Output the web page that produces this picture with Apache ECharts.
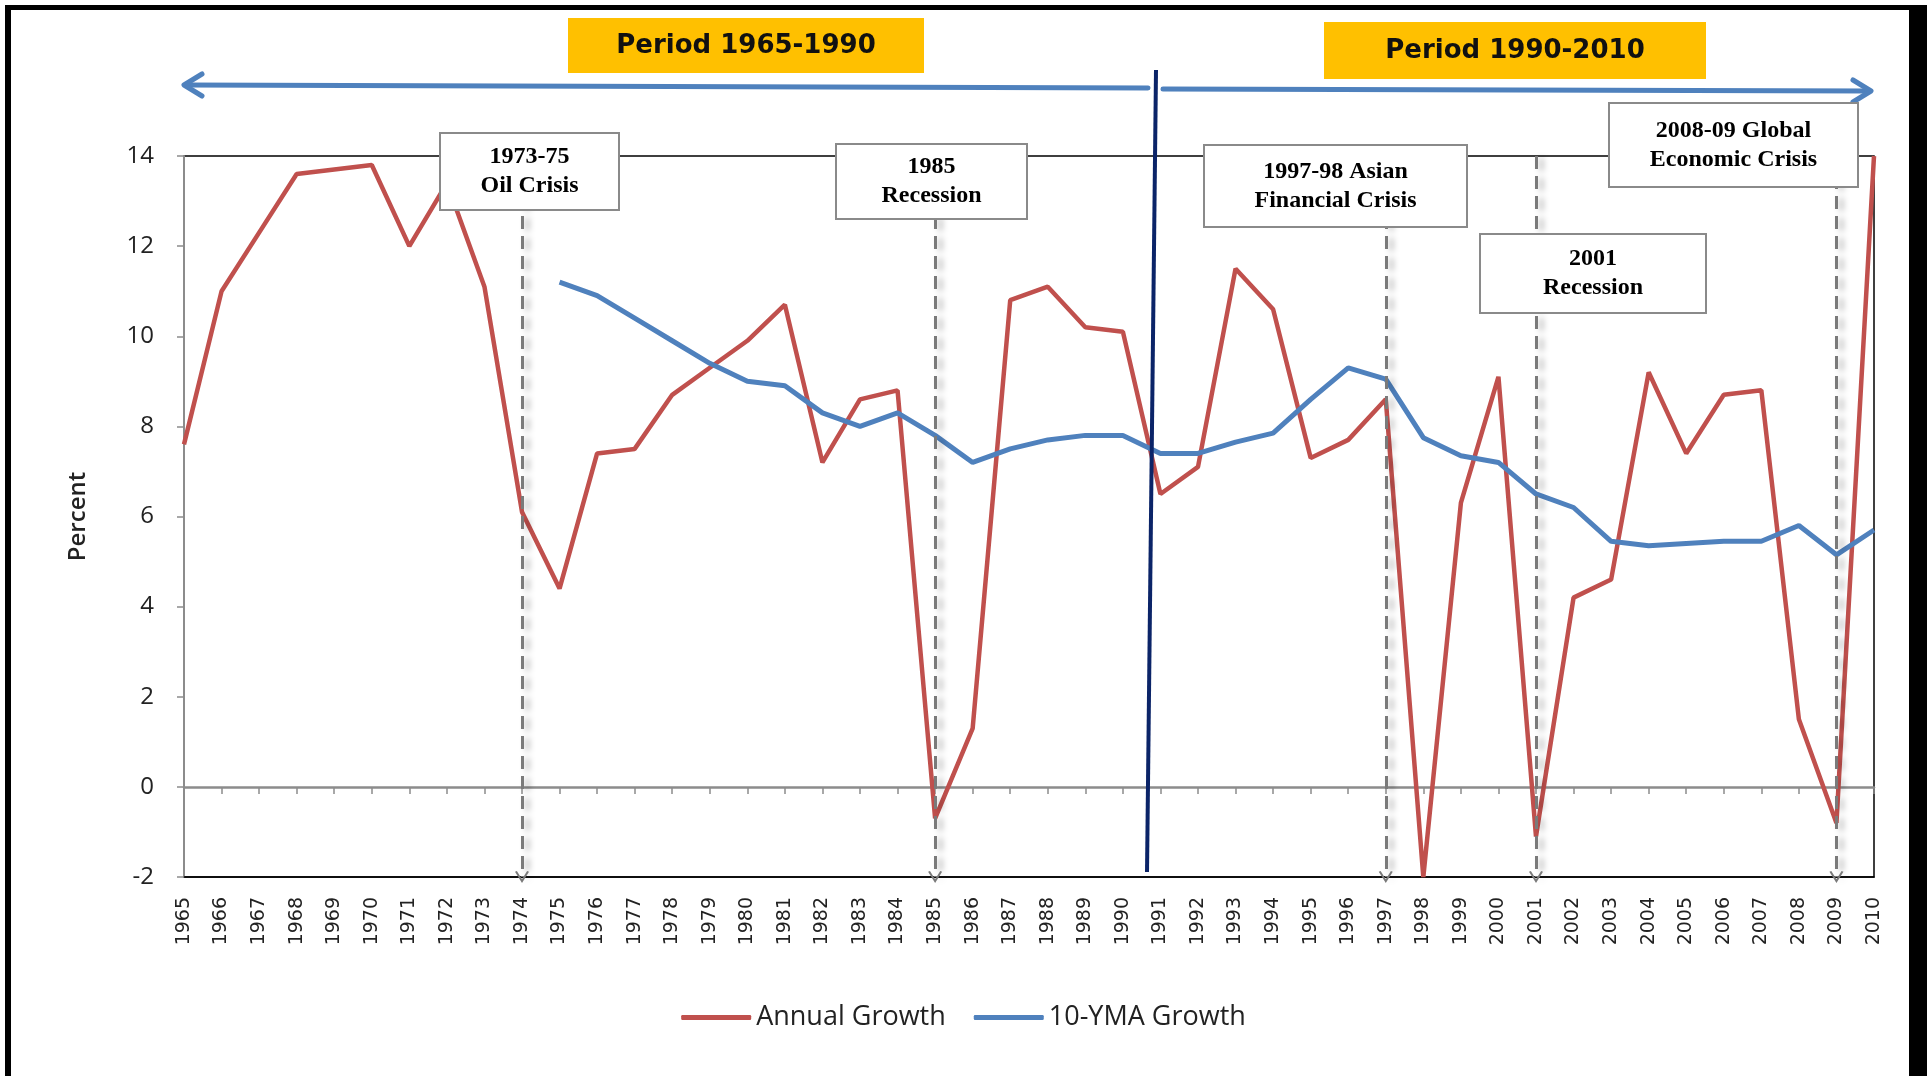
<!DOCTYPE html>
<html>
<head>
<meta charset="utf-8">
<title>Annual Growth and 10-YMA Growth</title>
<script src="https://cdn.jsdelivr.net/npm/echarts@6/dist/echarts.min.js"></script>
<style>
  html, body { margin: 0; padding: 0; background: #fff; }
  #main { width: 1927px; height: 1076px; }
</style>
</head>
<body>
<div id="main"></div>
<script>
// years on the x axis
const years = ['1965','1966','1967','1968','1969','1970','1971','1972','1973','1974',
  '1975','1976','1977','1978','1979','1980','1981','1982','1983','1984',
  '1985','1986','1987','1988','1989','1990','1991','1992','1993','1994',
  '1995','1996','1997','1998','1999','2000','2001','2002','2003','2004',
  '2005','2006','2007','2008','2009','2010'];

const annualGrowth = [7.6, 11.0, 12.3, 13.6, 13.7, 13.8, 12.0, 13.4, 11.1, 6.1,
  4.4, 7.4, 7.5, 8.7, 9.3, 9.9, 10.7, 7.2, 8.6, 8.8,
  -0.7, 1.3, 10.8, 11.1, 10.2, 10.1, 6.5, 7.1, 11.5, 10.6,
  7.3, 7.7, 8.6, -2.0, 6.3, 9.1, -1.1, 4.2, 4.6, 9.2,
  7.4, 8.7, 8.8, 1.5, -0.8, 14.0];

// 10 year moving average, starts in 1975
const ymaGrowth = [null, null, null, null, null, null, null, null, null, null,
  11.2, 10.9, 10.4, 9.9, 9.4, 9.0, 8.9, 8.3, 8.0, 8.3,
  7.8, 7.2, 7.5, 7.7, 7.8, 7.8, 7.4, 7.4, 7.65, 7.85,
  8.6, 9.3, 9.05, 7.75, 7.35, 7.2, 6.5, 6.2, 5.45, 5.35,
  5.4, 5.45, 5.45, 5.8, 5.15, 5.7];

const yMin = -2, yMax = 14, yStep = 2;

const crisisYears = ['1974', '1985', '1997', '2001', '2009'];
const crisisNotes = ['1973-75\nOil Crisis', '1985\nRecession', '1997-98 Asian\nFinancial Crisis',
  '2001\nRecession', '2008-09 Global\nEconomic Crisis'];
const periodNotes = ['Period 1965-1990', 'Period 1990-2010'];

// boxes for the notes  [x, y, w, h]
const noteBoxes = [[440, 133, 179, 77], [836, 144, 191, 75], [1204, 145, 263, 82],
  [1480, 234, 226, 79], [1609, 103, 249, 84]];
const periodBoxes = [[568, 18, 356, 55], [1324, 22, 382, 57]];

const myChart = echarts.init(document.getElementById('main'));

let graphics = [];
// outer frame
graphics.push({ type: 'rect', shape: { x: 5, y: 5, width: 6, height: 1071 }, style: { fill: '#000' }, z: 20 });
graphics.push({ type: 'rect', shape: { x: 5, y: 5, width: 1922, height: 5 }, style: { fill: '#000' }, z: 20 });
graphics.push({ type: 'rect', shape: { x: 1909, y: 5, width: 18, height: 1071 }, style: { fill: '#000' }, z: 20 });

periodBoxes.forEach(function (b, i) {
  graphics.push({ type: 'rect', shape: { x: b[0], y: b[1], width: b[2], height: b[3] },
    style: { fill: '#ffc000' }, z: 20 });
  graphics.push({ type: 'text', x: b[0] + b[2] / 2, y: b[1] + b[3] / 2 + 1, z: 21,
    style: { text: periodNotes[i], font: 'bold 26px "DejaVu Sans"', fill: '#111',
      textAlign: 'center', textVerticalAlign: 'middle' } });
});

// blue double arrow
const arrowStyle = { stroke: '#4f81bd', lineWidth: 5, lineCap: 'round', lineJoin: 'round', fill: null };
graphics.push({ type: 'polyline', shape: { points: [[186, 85], [1148, 88]] }, style: arrowStyle, z: 20 });
graphics.push({ type: 'polyline', shape: { points: [[202, 74], [184, 85], [202, 96]] }, style: arrowStyle, z: 20 });
graphics.push({ type: 'polyline', shape: { points: [[1163, 89], [1869, 91]] }, style: arrowStyle, z: 20 });
graphics.push({ type: 'polyline', shape: { points: [[1853, 80], [1871, 91], [1853, 102]] }, style: arrowStyle, z: 20 });

// divider between periods
graphics.push({ type: 'line', shape: { x1: 1156, y1: 70, x2: 1147, y2: 872 },
  style: { stroke: '#0b2468', lineWidth: 4 }, z: 19 });

noteBoxes.forEach(function (b, i) {
  graphics.push({ type: 'rect', shape: { x: b[0], y: b[1], width: b[2], height: b[3] },
    style: { fill: '#fff', stroke: '#8a8a8a', lineWidth: 2 }, z: 20 });
  graphics.push({ type: 'text', x: b[0] + b[2] / 2, y: b[1] + b[3] / 2, z: 21,
    style: { text: crisisNotes[i], font: 'bold 24px "Liberation Serif"', fill: '#000',
      lineHeight: 29, textAlign: 'center', textVerticalAlign: 'middle' } });
});

myChart.setOption({
  animation: false,
  backgroundColor: '#fff',
  grid: {
    left: 184, right: 53, top: 156, bottom: 199,
    show: true, borderColor: '#000', borderWidth: 1.5, backgroundColor: 'transparent'
  },
  legend: {
    bottom: 40,
    left: 'center',
    icon: 'roundRect',
    itemWidth: 70,
    itemHeight: 5,
    itemGap: 28,
    textStyle: { fontFamily: 'Open Sans', fontSize: 27, color: '#222' },
    data: ['Annual Growth', '10-YMA Growth']
  },
  xAxis: [
    {
      type: 'category',
      data: years,
      boundaryGap: false,
      position: 'bottom',
      axisLine: { onZero: false, lineStyle: { color: '#000', width: 1.5 } },
      axisTick: { show: false },
      axisLabel: { interval: 0, rotate: 90, margin: 20, fontFamily: 'DejaVu Sans', fontSize: 19, color: '#222' },
      splitLine: { show: false }
    },
    {
      type: 'category',
      data: years,
      boundaryGap: false,
      position: 'bottom',
      axisLine: { onZero: true, onZeroAxisIndex: 0, lineStyle: { color: '#8c8c8c', width: 2.5 } },
      axisTick: { show: true, interval: 0, length: 7, lineStyle: { color: '#8c8c8c', width: 1.5 } },
      axisLabel: { show: false },
      splitLine: { show: false }
    }
  ],
  yAxis: {
    type: 'value',
    min: yMin,
    max: yMax,
    interval: yStep,
    name: 'Percent',
    nameLocation: 'middle',
    nameRotate: 90,
    nameGap: 94,
    nameTextStyle: { fontFamily: 'Open Sans', fontSize: 24, fontWeight: 600, color: '#222' },
    axisLine: { show: true, lineStyle: { color: '#8c8c8c', width: 2 } },
    axisTick: { show: true, length: 7, lineStyle: { color: '#8c8c8c', width: 1.5 } },
    axisLabel: { margin: 30, fontFamily: 'Open Sans', fontSize: 24, color: '#222' },
    splitLine: { show: false }
  },
  series: [
    {
      name: 'Annual Growth',
      type: 'line',
      data: annualGrowth,
      symbol: 'none',
      itemStyle: { color: '#c0504d' },
      lineStyle: { color: '#c0504d', width: 4.5 },
      z: 3,
      markLine: {
        silent: true,
        symbol: ['none', 'path://M6,0 L12,9 L10.4,9.6 L6,3 L1.6,9.6 L0,9 Z'],
        symbolSize: [14, 12],
        label: { show: false },
        lineStyle: {
          color: '#7a7a7a', width: 3, type: [13, 7],
          shadowColor: 'rgba(0,0,0,0.35)', shadowBlur: 6, shadowOffsetX: 5, shadowOffsetY: 2
        },
        emphasis: { disabled: true },
        data: crisisYears.map(function (y) {
          return [{ coord: [y, yMax] }, { coord: [y, yMin] }];
        })
      }
    },
    {
      name: '10-YMA Growth',
      type: 'line',
      data: ymaGrowth,
      symbol: 'none',
      itemStyle: { color: '#4f81bd' },
      lineStyle: { color: '#4f81bd', width: 5 },
      z: 3
    }
  ],
  graphic: graphics
});
</script>
</body>
</html>
